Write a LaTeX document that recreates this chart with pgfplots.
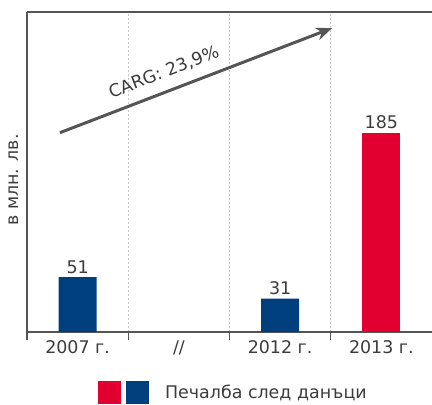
\documentclass[border=0pt]{standalone}
\usepackage{pgfplots}
\pgfplotsset{compat=1.18}
\usepackage{fontspec}
\setmainfont{DejaVu Sans}
\usetikzlibrary{arrows.meta}
\definecolor{profitred}{RGB}{225,0,47}
\definecolor{profitblue}{RGB}{0,63,125}
\definecolor{txtgray}{RGB}{60,60,60}
\definecolor{linegray}{RGB}{85,85,85}
\definecolor{gridgray}{RGB}{200,200,200}
\newcommand{\chartfont}{\fontsize{17.5}{20}\selectfont}

\begin{document}
\begin{tikzpicture}
\begin{axis}[
    at={(27bp,73bp)}, anchor=south west,
    scale only axis,
    width=405bp, height=320bp,
    xmin=-0.5, xmax=3.5,
    ymin=0, ymax=297,
    axis x line*=bottom,
    axis y line*=left,
    axis line style={color=linegray, line width=1.2bp},
    xtick={0,1,2,3},
    xticklabels={2007 г., //, 2012 г., 2013 г.},
    major x tick style={draw=none},
    minor xtick={-0.5,0.5,1.5,2.5},
    minor x tick style={color=linegray, line width=1.2bp},
    minor tick length=8bp,
    tick align=outside,
    xminorgrids=true,
    minor x grid style={color=gridgray, dash pattern=on 2bp off 2bp, line width=0.8bp},
    ytick=\empty,
    ybar, bar width=38bp, bar shift=0pt,
    nodes near coords,
    every node near coord/.append style={font=\chartfont, color=txtgray},
    /pgf/number format/assume math mode=true,
    xticklabel style={font=\chartfont, color=txtgray, yshift=-1bp},
    clip=false,
    legend style={draw=none, fill=none, at={(rel axis cs:0.175,-0.19)}, anchor=west,
        inner xsep=0pt, inner ysep=0pt,
        font=\chartfont, text=txtgray},
    legend image code/.code={
        \fill[profitred] (0bp,-11.5bp) rectangle (23bp,11.5bp);
        \fill[profitblue] (28bp,-11.5bp) rectangle (51bp,11.5bp);
    },
]
\addplot[fill=profitblue, draw=none] coordinates {(0,51) (2,31)};
\addlegendentry{\hspace{14bp}Печалба след данъци}
\addplot[fill=profitred, draw=none, forget plot] coordinates {(3,185)};

\draw[color=linegray, line width=1.2bp] (rel axis cs:0,1) -- (rel axis cs:1,1);
\draw[color=linegray, line width=3bp, -{Stealth[length=16bp, width=13bp]}]
    (axis cs:-0.174,185) -- (axis cs:2.512,282);
\node[rotate=21.1, font=\chartfont, color=txtgray]
    at (axis cs:0.853,241) {CARG: 23,9\%};
\node[rotate=90, font=\chartfont, color=txtgray]
    at ([xshift=-13bp]rel axis cs:0,0.475) {в млн. лв.};
\end{axis}
\pgfresetboundingbox
\path[use as bounding box] (0,0) rectangle (432bp,405bp);
\end{tikzpicture}
\end{document}
